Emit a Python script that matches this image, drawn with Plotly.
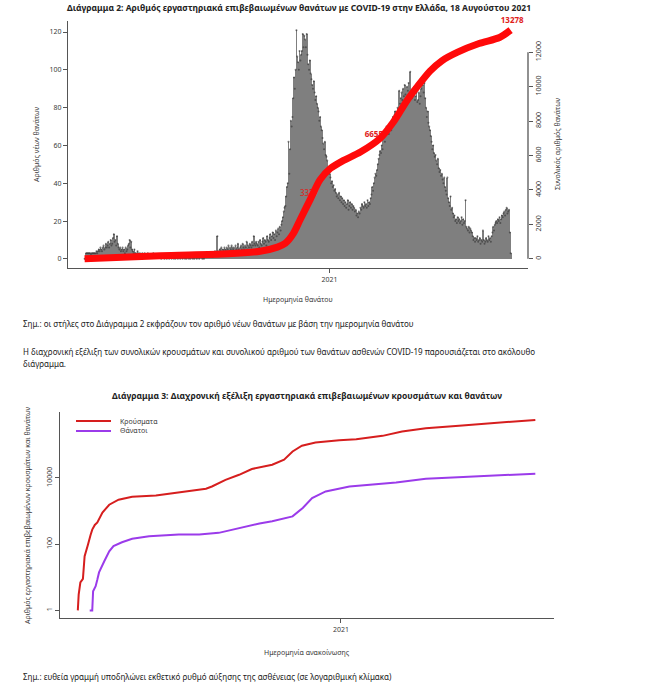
import pandas as pd
import plotly.graph_objects as go

# ---------------- Data: Diagram 2 (daily deaths, by date of death) ----------------
first_death_day = "2020-02-26"
daily_deaths = [
    0, 0, 3, 3,                                                                   # Feb 2020 (26-29)
    3, 3, 3, 3, 2, 3, 3, 3, 3, 3, 3, 4, 3, 4, 5, 4, 6, 5, 4, 6, 7, 5, 6, 8, 6, 7, 9, 6, 8, 10, 7,   # Mar
    8, 11, 13, 9, 10, 7, 12, 8, 6, 5, 6, 4, 5, 6, 4, 5, 3, 6, 4, 5, 7, 8, 10, 6, 9, 5, 4, 3, 5, 3,  # Apr
    3, 2, 4, 3, 2, 3, 2, 1, 3, 2, 2, 3, 1, 2, 2, 3, 1, 2, 1, 2, 2, 1, 3, 1, 2, 1, 1, 2, 1, 1, 2,    # May
    1, 0, 1, 2, 1, 0, 1, 1, 0, 2, 1, 0, 1, 1, 0, 1, 2, 0, 1, 0, 1, 1, 0, 1, 2, 0, 1, 1, 0, 1,       # Jun
    1, 0, 1, 0, 1, 1, 0, 2, 0, 1, 1, 0, 1, 0, 1, 2, 0, 1, 1, 0, 1, 1, 2, 0, 1, 0, 2, 1, 1, 2, 1,    # Jul
    2, 1, 2, 3, 2, 1, 3, 2, 4, 2, 3, 12, 4, 3, 5, 4, 6, 3, 5, 4, 6, 5, 4, 6, 5, 7, 4, 6, 5, 7, 6,   # Aug
    5, 6, 4, 7, 5, 6, 8, 5, 4, 6, 7, 5, 8, 6, 5, 7, 6, 9, 5, 7, 6, 8, 7, 6, 9, 7, 12, 8, 7, 9,      # Sep
    8, 7, 9, 6, 10, 8, 7, 9, 11, 8, 10, 9, 7, 12, 10, 9, 11, 13, 10, 12, 14, 11, 13, 10, 15, 12, 14, 16, 13, 17, 15,  # Oct
    18, 20, 22, 25, 27, 28, 33, 38, 40, 62, 45, 58, 73, 70, 75, 85, 96, 90, 100, 121,
    107, 104, 100, 110, 105, 108, 110, 119, 112, 118,                              # Nov
    116, 112, 119, 108, 103, 100, 105, 98, 95, 92, 90, 94, 88, 84, 86, 82, 80, 78, 73, 75,
    70, 68, 64, 61, 58, 62, 55, 54, 52, 48, 46,                                    # Dec
    45, 43, 40, 41, 38, 39, 36, 37, 35, 33, 34, 32, 35, 31, 33, 30, 32, 29, 31, 28,
    30, 27, 29, 31, 26, 28, 30, 27, 29, 26, 28,                                    # Jan 2021
    27, 25, 26, 23, 24, 22, 25, 24, 27, 26, 29, 28, 27, 30, 28, 29, 27, 31, 28, 30,
    29, 32, 34, 38, 36, 40, 43, 45,                                                # Feb
    44, 47, 50, 53, 55, 57, 56, 60, 58, 64, 66, 62, 68, 70, 67, 69, 66, 71, 70, 68,
    72, 75, 73, 76, 78, 74, 77, 80, 75, 89, 82,                                    # Mar
    85, 88, 84, 90, 86, 92, 87, 83, 91, 89, 93, 86, 99, 88, 85, 90, 87, 91, 84, 86,
    88, 83, 84, 88, 82, 86, 90, 95, 92, 88,                                        # Apr
    93, 85, 80, 75, 78, 72, 70, 68, 65, 62, 58, 60, 56, 54, 55, 52, 50, 53, 48, 46,
    47, 44, 45, 42, 40, 43, 38, 36, 34, 43, 32,                                    # May
    30, 28, 33, 26, 27, 24, 22, 23, 20, 21, 19, 22, 20, 21, 19, 20, 22, 18, 21, 19,
    20, 31, 17, 16, 15, 17, 14, 16, 15, 14,                                        # Jun
    12, 10, 11, 9, 11, 10, 12, 9, 10, 11, 8, 10, 9, 15, 10, 8, 9, 11, 10, 9,
    12, 10, 11, 9, 12, 14, 17, 15, 18, 19, 20,                                     # Jul
    19, 21, 20, 22, 19, 21, 23, 22, 24, 25, 23, 26, 27, 24, 25, 26, 14, 3,         # Aug 1-18
]

# cumulative deaths (red curve), days relative to 2021-01-01
cum_day_offsets = [-310, -214, -129, -88, -66, -56, -46, -37, -24, -12, 1, 17, 39, 64, 80, 98,
                   111, 127, 142, 162, 189, 215, 229]
cum_deaths = [0, 180, 290, 440, 680, 900, 1460, 2300, 3500, 4600, 5250, 5700, 6200, 7000, 7900,
              9200, 10000, 10900, 11500, 12000, 12500, 12850, 13278]

milestone_offsets = [-26, 56, 231]
milestone_values = [3750, 7190, 13790]
milestone_labels = ["3327", "<b>6655</b>", "<b>13278</b>"]

# ---------------- Data: Diagram 3 (cumulative cases & deaths, log scale) ----------------
case_day_offsets = [-310, -309, -307, -305, -304, -302, -300, -298, -295, -293, -290, -287, -281,
                    -273, -262, -246, -218, -191, -159, -152, -136, -120, -105, -81, -67, -57,
                    -46, -30, -14, -2, 18, 49, 72, 100, 143, 183, 229]
cum_cases = [1, 3, 7, 8, 9, 43, 73, 98, 190, 275, 380, 450, 900, 1550, 2200, 2700, 2950, 3570,
             4700, 5500, 8700, 12400, 18600, 25000, 35500, 63000, 94000, 117000, 132000, 138000,
             148000, 186000, 251000, 318000, 380000, 468000, 565000]

death_day_offsets = [-296, -293, -292, -289, -287, -285, -279, -273, -268, -258, -246, -226, -191,
                     -167, -144, -120, -96, -81, -57, -45, -34, -18, -2, 10, 65, 100, 144, 183, 229]
cum_deaths_ann = [1, 1, 3.8, 5.4, 8.5, 14, 30, 61, 87, 114, 145, 173, 195, 197, 219, 310, 420, 490,
                  690, 1240, 2460, 3900, 4800, 5500, 7300, 9500, 10700, 12000, 13400]

legend_labels = ["Κρούσματα", "Θάνατοι"]

# ---------------- helpers ----------------
W, H = 650, 696
def px(x):
    return x / W
def py(y):
    return 1 - y / H

base = pd.Timestamp("2021-01-01")
def offs(days):
    return base + pd.to_timedelta(days, unit="D")

death_dates = pd.date_range(first_death_day, periods=len(daily_deaths), freq="D")
x_range = ["2020-02-05", "2021-09-09"]

FONT = "Noto Sans"
TXT = "#3a3a3a"
AX = "#555555"

fig = go.Figure()

fig.add_trace(go.Bar(x=death_dates, y=daily_deaths, width=86400000, marker_color="#7f7f7f",
                     marker_line_width=0, xaxis="x", yaxis="y", showlegend=False))
fig.add_trace(go.Scatter(x=death_dates, y=daily_deaths, mode="markers",
                         marker=dict(size=2, color="#3c3c3c", opacity=0.7),
                         xaxis="x", yaxis="y", showlegend=False))
fig.add_trace(go.Scatter(x=offs(milestone_offsets), y=milestone_values, mode="text",
                         text=milestone_labels, cliponaxis=False,
                         textfont=dict(family=FONT, size=8, color="#e0201a"),
                         xaxis="x", yaxis="y2", showlegend=False))
fig.add_trace(go.Scatter(x=offs(cum_day_offsets), y=cum_deaths, mode="lines",
                         line=dict(color="#ff0a0a", width=7, shape="spline", smoothing=0.8),
                         xaxis="x", yaxis="y2", showlegend=False))

fig.add_trace(go.Scatter(x=offs(case_day_offsets), y=cum_cases, mode="lines",
                         line=dict(color="#d61e1e", width=2), xaxis="x2", yaxis="y3",
                         showlegend=False))
fig.add_trace(go.Scatter(x=offs(death_day_offsets), y=cum_deaths_ann, mode="lines",
                         line=dict(color="#9b3bea", width=2), xaxis="x2", yaxis="y3",
                         showlegend=False))

tickfont = dict(family=FONT, size=7, color=TXT)
common = dict(showgrid=False, zeroline=False, ticks="outside", ticklen=4, tickcolor=AX,
              tickwidth=1, tickfont=tickfont, fixedrange=True)

right_ticks = [0, 2000, 4000, 6000, 8000, 10000, 12000]

fig.update_layout(
    width=W, height=H, autosize=False,
    margin=dict(l=0, r=0, t=0, b=0),
    paper_bgcolor="white", plot_bgcolor="white",
    bargap=0,
    font=dict(family=FONT, color=TXT),
    xaxis=dict(domain=[px(68), px(528)], anchor="y", type="date", range=x_range,
               tickvals=["2021-01-01"], ticktext=["2021"], showline=True, linecolor=AX,
               linewidth=1.3, **common),
    yaxis=dict(domain=[py(268), py(21)], anchor="x", range=[-4.84, 125.84],
               tickvals=[0, 20, 40, 60, 80, 100, 120], showline=True, linecolor=AX,
               linewidth=1.3, **common),
    yaxis2=dict(overlaying="y", side="right", anchor="x", range=[-531, 13809],
                tickvals=right_ticks, ticktext=[str(v) for v in right_ticks], tickangle=-90,
                showline=False, **common),
    xaxis2=dict(domain=[px(60), px(554)], anchor="y3", type="date", range=x_range,
                tickvals=["2021-01-01"], ticktext=["2021"], showline=True, linecolor=AX,
                linewidth=1.3, **common),
    yaxis3=dict(domain=[py(618), py(412)], anchor="x2", type="log", range=[-0.23, 5.99],
                tickvals=[1, 100, 10000], ticktext=["1", "100", "10000"], tickangle=-90,
                showline=True, linecolor=AX, linewidth=1.3, **common),
)

shapes = [
    dict(type="line", xref="paper", yref="y2", x0=px(528), x1=px(528), y0=0, y1=12000,
         line=dict(color=AX, width=1.3)),
    dict(type="line", xref="paper", yref="paper", x0=px(76), x1=px(111), y0=py(421), y1=py(421),
         line=dict(color="#d61e1e", width=2)),
    dict(type="line", xref="paper", yref="paper", x0=px(76), x1=px(111), y0=py(431), y1=py(431),
         line=dict(color="#9b3bea", width=2)),
]
fig.update_layout(shapes=shapes)

def ann(text, x, y, size=7, angle=0, xanchor="center", bold=False, color=TXT):
    return dict(text=("<b>%s</b>" % text) if bold else text, x=px(x), y=py(y), xref="paper",
                yref="paper", showarrow=False, textangle=angle, xanchor=xanchor,
                yanchor="middle", font=dict(family=FONT, size=size, color=color))

annotations = [
    ann("Διάγραμμα 2: Αριθμός εργαστηριακά επιβεβαιωμένων θανάτων με COVID-19 στην Ελλάδα, 18 Αυγούστου 2021",
        299, 8, size=8.5, bold=True, color="#222"),
    ann("Αριθμός νέων θανάτων", 37, 144, angle=-90),
    ann("Συνολικός αριθμός θανάτων", 558, 144, angle=-90),
    ann("Ημερομηνία θανάτου", 298, 299),
    ann("Σημ.: οι στήλες στο Διάγραμμα 2 εκφράζουν τον αριθμό νέων θανάτων με βάση την ημερομηνία θανάτου",
        21, 324, size=8, xanchor="left", color="#222"),
    ann("Η διαχρονική εξέλιξη των συνολικών κρουσμάτων και συνολικού αριθμού των θανάτων ασθενών COVID-19 παρουσιάζεται στο ακόλουθο",
        21, 351, size=8, xanchor="left", color="#222"),
    ann("διάγραμμα.", 21, 363, size=8, xanchor="left", color="#222"),
    ann("Διάγραμμα 3: Διαχρονική εξέλιξη εργαστηριακά επιβεβαιωμένων κρουσμάτων και θανάτων",
        307, 395, size=8.5, bold=True, color="#222"),
    ann("Αριθμός εργαστηριακά επιβεβαιωμένων κρουσμάτων και θανάτων", 27, 515, angle=-90),
    ann(legend_labels[0], 118, 421, xanchor="left"),
    ann(legend_labels[1], 118, 431, xanchor="left"),
    ann("Ημερομηνία ανακοίνωσης", 307, 652),
    ann("Σημ.: ευθεία γραμμή υποδηλώνει εκθετικό ρυθμό αύξησης της ασθένειας (σε λογαριθμική κλίμακα)",
        21, 676, size=8, xanchor="left", color="#222"),
]
fig.update_layout(annotations=annotations)

fig.write_html("out.html", config={"displayModeBar": False},
               post_script="document.body.style.margin='0px';document.body.style.overflow='hidden';")
